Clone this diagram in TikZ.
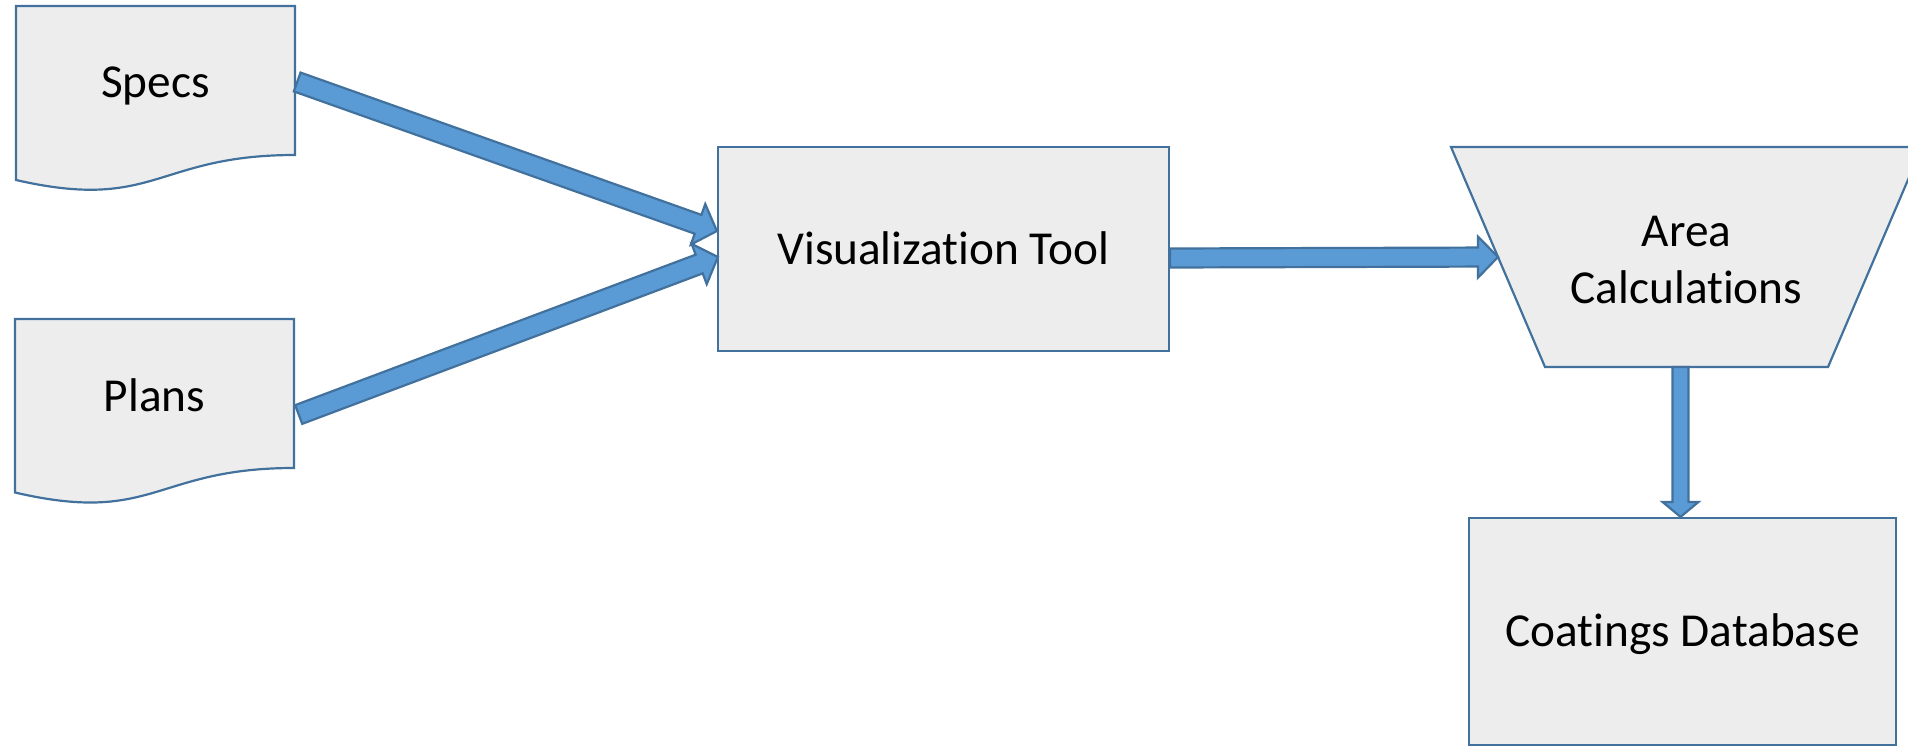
\documentclass[tikz,border=0pt]{standalone}
\usepackage{fontspec}
\setmainfont{Carlito}[Ligatures=NoCommon]
\usetikzlibrary{calc}
\definecolor{boxfill}{HTML}{EDEDED}
\definecolor{edge}{HTML}{41719C}
\definecolor{arrowfill}{HTML}{5B9BD5}

% Block arrow: #1 tail centre, #2 tip, #3 half shaft width, #4 half head width, #5 head length
\newcommand\blockarrow[5]{%
  \coordinate (ba-h) at ($(#2)!#5!(#1)$);
  \draw[blockarrow] ($(#1)!#3!90:(#2)$) -- ($(ba-h)!#3!90:(#2)$)
    -- ($(ba-h)!#4!90:(#2)$) -- (#2) -- ($(ba-h)!#4!-90:(#2)$)
    -- ($(ba-h)!#3!-90:(#2)$) -- ($(#1)!#3!-90:(#2)$) -- cycle;}

\begin{document}
\begin{tikzpicture}[x=1pt,y=-1pt,
  shapeline/.style={draw=edge, line width=2.2pt, fill=boxfill},
  label/.style={font=\fontsize{47.3}{57}\selectfont, text height=30.5pt, text depth=0pt, inner sep=0pt},
  multilabel/.style={font=\fontsize{47.3}{57}\selectfont, align=center, inner sep=0pt},
  blockarrow/.style={draw=edge, line width=2.2pt, fill=arrowfill, line join=miter}]
\useasboundingbox (0,0) rectangle (1908,746);
\clip (0,0) rectangle (1908,746);

% document shapes
\path[shapeline] (16,6) -- (295,6) -- (295,155)
  .. controls (155.5,155) and (155.5,212) .. (16,180) -- cycle;
\node[label, minimum width=279pt] (specs) at (155.5,82) {Specs};

\path[shapeline] (15,319) -- (294,319) -- (294,468)
  .. controls (154.5,468) and (154.5,525) .. (15,492.5) -- cycle;
\node[label, minimum width=279pt] (plans) at (154.5,396) {Plans};

% process box
\node[shapeline, label, minimum width=451pt, minimum height=204pt] (viz) at (943.5,249) {Visualization Tool};

% manual operation (trapezoid)
\coordinate (tl) at (1451,147);
\coordinate (tr) at (1922,147);
\coordinate (br) at (1828,367);
\coordinate (bl) at (1545,367);
\path[shapeline] (tl) -- (tr) -- (br) -- (bl) -- cycle;
\node[multilabel] (area) at (1686.5,259.5) {Area\\Calculations};

% database box
\node[shapeline, label, minimum width=427pt, minimum height=227pt] (coat) at (1682.5,631.5) {Coatings Database};

% connectors
\coordinate (a1s) at ($(specs.east)+(2,0)$);
\coordinate (a1t) at ($(viz.west)+(0,-18)$);
\coordinate (a2s) at ($(plans.east)+(4.5,18.5)$);
\coordinate (a2t) at ($(viz.west)+(1,8)$);
\coordinate (a3s) at ($(viz.east)+(0,9)$);
\coordinate (a3t) at ($(tl)!0.5!(bl)$);
\coordinate (a4t) at ($(coat.north)+(-2,0)$);
\coordinate (a4s) at (a4t |- bl);

\blockarrow{a1s}{a1t}{10pt}{21.5pt}{20pt}
\blockarrow{a2s}{a2t}{10pt}{21.5pt}{20pt}
\blockarrow{a3s}{a3t}{9.5pt}{20.5pt}{20pt}
\blockarrow{a4s}{a4t}{8pt}{18pt}{15pt}
\end{tikzpicture}
\end{document}
